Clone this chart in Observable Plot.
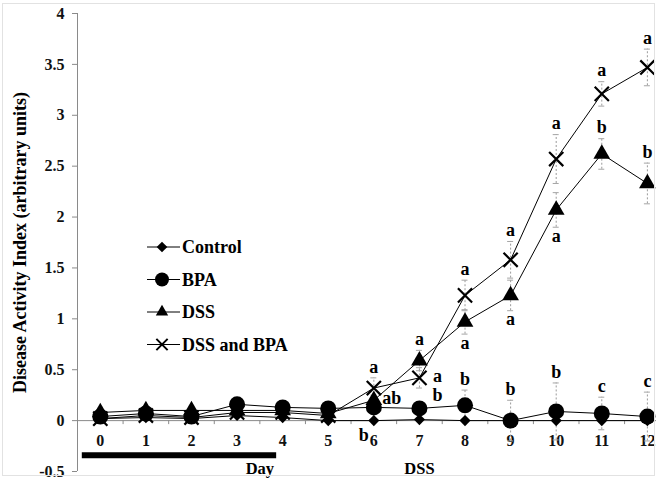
<!DOCTYPE html>
<html>
<head>
<meta charset="utf-8">
<script src="https://cdn.jsdelivr.net/npm/d3@7"></script>
<script src="https://cdn.jsdelivr.net/npm/@observablehq/plot@0.6"></script>
<style>
  html, body { margin: 0; padding: 0; background: #fff; }
  #wrap { position: relative; width: 657px; height: 481px; }
  #frame { position: absolute; left: 2px; top: 3px; width: 653px; height: 473px; border: 1px solid #e2e2e2; box-sizing: border-box; pointer-events: none; }
  #legend { position: absolute; left: 140px; top: 230px; }
</style>
</head>
<body>
<div id="wrap"><div id="frame"></div></div>
<script>
// Disease Activity Index by day for the four treatment groups
const days = [0, 1, 2, 3, 4, 5, 6, 7, 8, 9, 10, 11, 12];
const seriesNames = ["Control", "BPA", "DSS", "DSS and BPA"];
const control  = [0.02, 0.03, 0.02, 0.05, 0.03, 0.00, 0.00, 0.01, 0.00, 0.00, 0.00, 0.00, 0.00];
const bpa      = [0.04, 0.07, 0.04, 0.16, 0.13, 0.12, 0.13, 0.12, 0.15, 0.00, 0.09, 0.07, 0.04];
const dss      = [0.08, 0.10, 0.10, 0.10, 0.10, 0.07, 0.20, 0.59, 0.97, 1.23, 2.07, 2.62, 2.33];
const dssBpa   = [0.02, 0.05, 0.03, 0.08, 0.08, 0.05, 0.32, 0.42, 1.23, 1.58, 2.57, 3.21, 3.47];
// standard errors
const controlErr = [0, 0, 0, 0, 0, 0, 0, 0, 0, 0, 0, 0, 0];
const bpaErr     = [0, 0, 0, 0, 0, 0, 0, 0, 0.15, 0.20, 0.28, 0.16, 0.24];
const dssErr     = [0, 0, 0, 0, 0, 0, 0.05, 0.10, 0.12, 0.15, 0.17, 0.15, 0.20];
const dssBpaErr  = [0, 0, 0, 0, 0, 0, 0.10, 0.10, 0.15, 0.18, 0.24, 0.12, 0.18];
const yTicks = [-0.5, 0, 0.5, 1, 1.5, 2, 2.5, 3, 3.5, 4];
const bpaPeriod = [0, 4];          // days of BPA exposure
const periodLabels = [{x: 3.5, text: "Day"}, {x: 7, text: "DSS"}];
const yTitle = "Disease Activity Index (arbitrary units)";
// significance letters: day, group, letter, placement
const letters = [
  [6, "DSS and BPA", "a", "above"], [6, "DSS", "ab", "right"], [6, "Control", "b", "belowLeft"],
  [7, "DSS", "a", "above"], [7, "DSS and BPA", "a", "right"], [7, "BPA", "b", "upRight"],
  [8, "DSS and BPA", "a", "above"], [8, "DSS", "a", "below"], [8, "BPA", "b", "above"],
  [9, "DSS and BPA", "a", "above"], [9, "DSS", "a", "below"], [9, "BPA", "b", "above"],
  [10, "DSS and BPA", "a", "above"], [10, "DSS", "a", "below"], [10, "BPA", "b", "above"],
  [11, "DSS and BPA", "a", "above"], [11, "DSS", "b", "above"], [11, "BPA", "c", "above"],
  [12, "DSS and BPA", "a", "above"], [12, "DSS", "b", "above"], [12, "BPA", "c", "above"]
];

const values = {"Control": control, "BPA": bpa, "DSS": dss, "DSS and BPA": dssBpa};
const errors = {"Control": controlErr, "BPA": bpaErr, "DSS": dssErr, "DSS and BPA": dssBpaErr};
const rows = seriesNames.flatMap(s => days.map((d, i) => ({series: s, day: d, value: values[s][i], err: errors[s][i]})));
const errRows = rows.filter(r => r.err > 0);
const rowOf = (day, s) => rows.find(r => r.day === day && r.series === s);

// pixel offsets of each letter placement from its anchor
const offsets = {
  above: {dx: 0, dy: -11}, below: {dx: 0, dy: 9}, right: {dx: 18, dy: -2},
  upRight: {dx: 18, dy: -13}, belowLeft: {dx: -10, dy: 15}
};
const letterRows = letters.map(([day, s, text, place]) => {
  const r = rowOf(day, s);
  const y = place === "above" ? r.value + r.err : place === "below" ? r.value - r.err : r.value;
  return {day, y, text, place};
});

// filled diamond (rotated square) like the spreadsheet marker
const diamondSym = {draw(ctx, size) { const h = Math.sqrt(size) * 0.75; ctx.moveTo(0, -h); ctx.lineTo(h, 0); ctx.lineTo(0, h); ctx.lineTo(-h, 0); ctx.closePath(); }};
const symbols = {"Control": diamondSym, "BPA": "circle", "DSS": "triangle", "DSS and BPA": "times"};
const radii = {"Control": 4.2, "BPA": 8, "DSS": 6.2, "DSS and BPA": 6.5};

const halfTicks = days.slice(0, -1).map(d => d + 0.5);
const axisGray = "#8a8a8a";
const serif = "'Liberation Serif', 'Times New Roman', serif";

const plot = Plot.plot({
  width: 657,
  height: 481,
  marginLeft: 77,
  marginRight: 1,
  marginTop: 13,
  marginBottom: 10,
  style: {fontFamily: serif, fontWeight: "bold", fontSize: "16px", color: "#000", background: "transparent", overflow: "visible"},
  x: {domain: [-0.5, 12.2], axis: null},
  y: {domain: [-0.5, 4], axis: null},
  marks: [
    // axes
    Plot.ruleX([-0.5], {y1: -0.5, y2: 4, stroke: axisGray}),
    Plot.axisY({ticks: yTicks, tickSize: 5, tickPadding: 8, tickFormat: d => String(d), stroke: axisGray, fill: "#111", fontSize: 16, fontWeight: "bold"}),
    Plot.ruleY([0], {stroke: axisGray}),
    Plot.ruleX(halfTicks, {x: d => d, y1: 0, y2: 0, insetBottom: -4, stroke: axisGray}),
    Plot.text(days, {x: d => d, y: 0, text: d => String(d), dy: 20, fill: "#111", fontSize: 16}),
    Plot.ruleY([bpaPeriod], {x1: d => d[0], x2: d => d[1], y: -0.34, insetLeft: -18, insetRight: 6, stroke: "#000", strokeWidth: 6}),
    Plot.text(periodLabels, {x: "x", y: -0.5, text: "text", dy: -3, fontSize: 16.5}),
    Plot.text([yTitle], {frameAnchor: "left", textAnchor: "middle", rotate: -90, dx: -57, fontSize: 18}),
    // error bars
    Plot.ruleX(errRows, {x: "day", y1: d => d.value - d.err, y2: d => d.value + d.err, stroke: "#9a9a9a", strokeDasharray: "2,2"}),
    Plot.ruleY(errRows, {x1: "day", x2: "day", y: d => d.value + d.err, insetLeft: -3, insetRight: -3, stroke: "#a5a5a5"}),
    Plot.ruleY(errRows, {x1: "day", x2: "day", y: d => d.value - d.err, insetLeft: -3, insetRight: -3, stroke: "#a5a5a5"}),
    // series
    Plot.line(rows, {x: "day", y: "value", z: "series", stroke: "#000", strokeWidth: 1}),
    ...seriesNames.map(s => Plot.dot(rows.filter(r => r.series === s), {
      x: "day", y: "value", symbol: symbols[s], r: radii[s],
      fill: s === "DSS and BPA" ? "none" : "#000",
      stroke: "#000", strokeWidth: s === "DSS and BPA" ? 2.2 : 0
    })),
    // significance letters, one mark per placement
    ...Object.entries(offsets).map(([place, o]) => Plot.text(letterRows.filter(d => d.place === place), {
      x: "day", y: "y", text: "text", dx: o.dx, dy: o.dy, fontSize: 18, fill: "#000"
    }))
  ]
});

const wrap = document.getElementById("wrap");
wrap.insertBefore(plot, wrap.firstChild);

// legend
const legend = d3.select(wrap).append("svg").attr("id", "legend").attr("width", 200).attr("height", 130);
seriesNames.forEach((s, i) => {
  const g = legend.append("g").attr("transform", `translate(0, ${17 + i * 32.5})`);
  g.append("line").attr("x1", 7).attr("x2", 40).attr("stroke", "#000").attr("stroke-width", 1);
  const sym = symbols[s];
  const type = sym === "circle" ? d3.symbolCircle : sym === "triangle" ? d3.symbolTriangle : sym === "times" ? d3.symbolTimes : sym;
  const r = s === "BPA" ? 7 : s === "DSS" ? 4.6 : s === "Control" ? 4 : 5.2;
  g.append("path").attr("transform", "translate(22,0)")
    .attr("d", d3.symbol(type, Math.PI * r * r)())
    .attr("fill", s === "DSS and BPA" ? "none" : "#000")
    .attr("stroke", "#000").attr("stroke-width", s === "DSS and BPA" ? 2 : 0);
  g.append("text").attr("x", 42).attr("dy", "0.35em")
    .style("font-family", serif)
    .style("font-weight", "bold").style("font-size", "18px").text(s);
});
</script>
</body>
</html>
